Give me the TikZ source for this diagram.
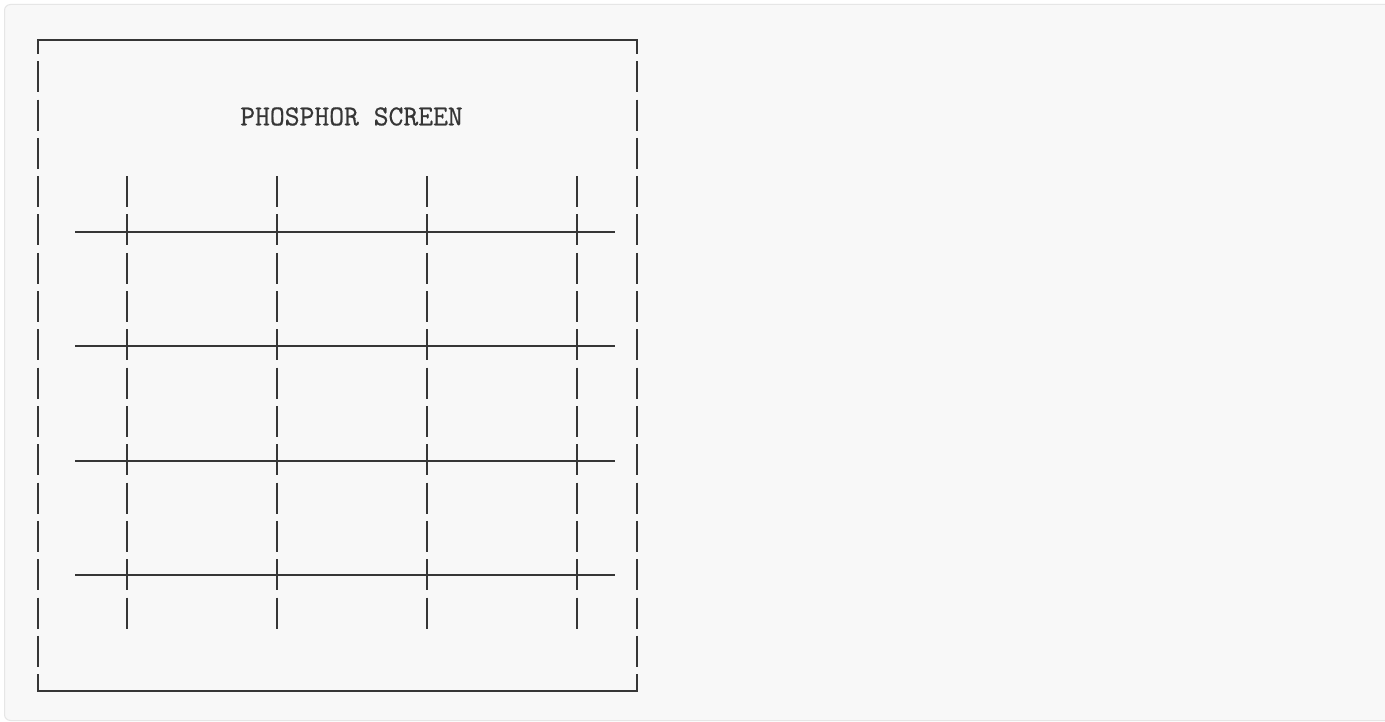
\documentclass[tikz,border=0pt]{standalone}
\usepackage{fontspec}
\newfontfamily\ttx{Latin Modern Mono}[FakeBold=0.7]
\begin{document}
\begin{tikzpicture}[x=1pt,y=-1pt,
  ink/.style={draw=inkc, line width=1.8pt, line cap=butt},
  title/.style={font=\ttx\fontsize{28.8}{28.8}\selectfont, text=inkc, inner sep=0pt}]
\definecolor{inkc}{HTML}{363636}
\definecolor{bgfill}{HTML}{F8F8F8}
\definecolor{bgline}{HTML}{E6E6E6}
\useasboundingbox (0,0) rectangle (1385,722);
\clip (0,0) rectangle (1385,722);
\fill[white] (0,0) rectangle (1385,722);
\draw[draw=bgline, fill=bgfill, line width=1pt, rounded corners=6pt] (4.5,4.5) rectangle (1400,720.5);
% outer box corners
\draw[ink] (38,54) -- (38,40) -- (637,40) -- (637,54);
\draw[ink] (38,674) -- (38,691) -- (637,691) -- (637,674);
% outer box sides (character rows)
\foreach \r in {1,...,16}{
  \draw[ink] (38,{40+38.3*\r-17}) -- (38,{40+38.3*\r+14});
  \draw[ink] (637,{40+38.3*\r-17}) -- (637,{40+38.3*\r+14});
}
% grid verticals
\foreach \x in {127,277,427,577}{
  \foreach \r in {4,...,15}{
    \draw[ink] (\x,{40+38.3*\r-17}) -- (\x,{40+38.3*\r+14});
  }
}
% grid horizontals
\foreach \y in {232,346,461,575}{
  \draw[ink] (75,\y) -- (615,\y);
}
\node[title] (label) at (351.5,116.5) {PHOSPHOR SCREEN};
\end{tikzpicture}
\end{document}
